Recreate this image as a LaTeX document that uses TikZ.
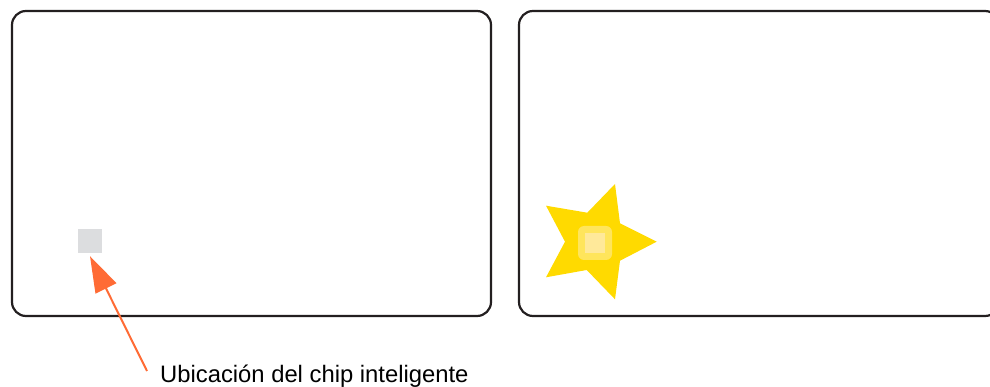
\documentclass[tikz,border=0pt]{standalone}
\usepackage{fontspec}
\setmainfont{Liberation Sans}
\usetikzlibrary{arrows.meta}
\definecolor{cardline}{HTML}{231F20}
\definecolor{chipgray}{HTML}{DCDDDF}
\definecolor{pointer}{HTML}{FF6B35}
\definecolor{stargold}{HTML}{FFDA00}
\definecolor{chipglow}{HTML}{FFE55C}
\definecolor{chipyellow}{HTML}{FFE99A}
\tikzset{
  card/.style={draw=cardline, line width=2.2pt, rounded corners=14pt},
  chipbox/.style={fill=chipgray, minimum size=24pt, inner sep=0pt},
  pointer/.style={draw=pointer, line width=2pt, -{Triangle[length=36pt,width=23pt]}},
}
\begin{document}
\begin{tikzpicture}[x=1pt,y=-1pt]
  \useasboundingbox (0,0) rectangle (990,387);
  \clip (0,0) rectangle (990,387);
  % cards
  \draw[card] (12,11) rectangle (491,316);
  \draw[card] (519,11) rectangle (999,316);
  % chip on the first card
  \node[chipbox] (chip) at (90,241) {};
  \node[anchor=base west, inner sep=0pt, font=\fontsize{23.8}{28}\selectfont]
    (label) at (160,382) {Ubicación del chip inteligente};
  \coordinate (tail) at (147,371);
  \draw[pointer] (tail) -- ([yshift=-3pt]chip.south);
  % star on the second card
  \fill[stargold] (615,184) -- (620,223.3) -- (656.7,241.7) -- (620,260.7)
    -- (615,299.3) -- (586.7,270) -- (546,277.3) -- (565,241.7)
    -- (546,205.7) -- (587.3,212.7) -- cycle;
  \fill[chipglow, rounded corners=6pt] (578,226) rectangle (612,260);
  \node[fill=chipyellow, minimum size=20pt, inner sep=0pt] (starchip) at (595,243) {};
\end{tikzpicture}
\end{document}
